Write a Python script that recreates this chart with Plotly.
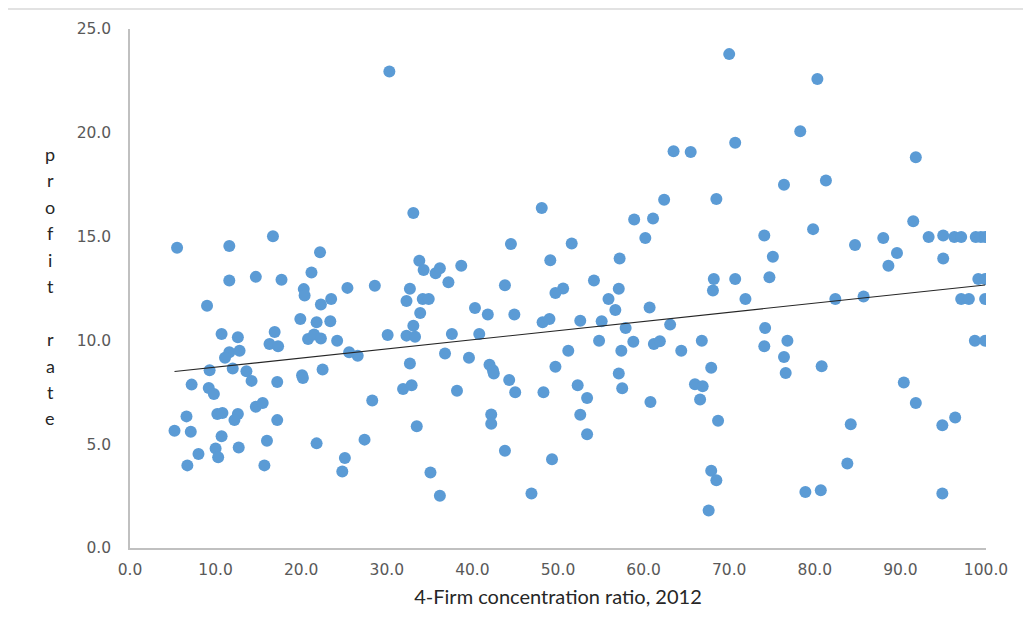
import numpy as np
import plotly.graph_objects as go

# 4-firm concentration ratio (x) and profit rate (y)
concentration_ratio = [
    33.1, 5.5, 11.6, 16.7, 22.2, 33.8, 34.3, 11.6, 14.7, 17.7, 21.2, 20.3, 20.4, 25.4, 28.6,
    32.7, 32.3, 34.2, 34.9, 33.9, 33.1, 9.0, 23.5, 22.3, 19.9, 21.8, 23.4,
    10.7, 12.6, 16.9, 11.6, 11.1, 12.8, 16.3, 17.3, 20.8, 21.5, 22.3, 24.2, 30.1, 32.3, 33.3,
    25.6, 26.6, 9.3, 12.0, 13.6, 7.2, 9.2, 9.8, 14.2, 17.2, 20.1, 20.2, 22.5, 32.7, 31.9, 32.9,
    28.3, 14.7, 15.5, 6.6, 10.2, 10.8, 12.6, 12.2, 17.2, 33.5, 5.2, 7.1, 10.7, 16.0, 21.8, 27.4,
    8.0, 10.0, 10.3, 12.7, 6.7, 15.7, 25.1, 24.8,
    63.5, 65.5, 62.4, 58.9, 61.1, 60.2, 48.1, 44.5, 51.6, 35.7, 36.2, 38.7, 37.2, 49.1, 57.2,
    43.8, 54.2, 40.3, 41.8, 44.9, 50.6, 49.7, 57.1, 55.9, 56.7, 60.7, 48.2, 49.0, 52.6, 55.1,
    57.9, 63.1,
    37.6, 40.8, 36.8, 39.6, 42.0, 42.4, 42.5, 44.3, 45.0, 38.2, 48.3, 51.2, 49.7, 54.8, 57.4,
    58.8, 61.2, 61.9, 64.4, 66.8, 57.1, 57.5, 52.3, 53.4, 60.8, 66.0, 66.6, 42.2, 42.2, 52.6,
    53.4, 43.8, 49.3, 35.1, 36.2, 46.9,
    70.0, 80.3, 78.3, 70.7, 91.8, 68.5, 76.4, 81.3, 74.1, 79.8, 91.5, 84.7, 88.0, 93.3, 95.0,
    96.3, 97.1, 98.8, 99.4, 99.9, 75.1, 89.6, 88.6, 95.0, 68.2, 70.7, 68.1, 74.7, 71.9, 82.4,
    85.7, 99.1, 99.9, 97.1, 98.0, 99.9, 74.2,
    74.1, 76.8, 76.4, 76.6, 80.8, 67.9, 66.9, 68.7, 90.4, 91.8, 96.4, 94.9, 84.2, 83.8, 67.9,
    68.5, 67.6, 78.9, 80.7, 94.9, 98.7, 99.9,
    30.3,
]
profit_rate = [
    16.14, 14.46, 14.55, 15.02, 14.25, 13.84, 13.39, 12.88, 13.06, 12.92, 13.27, 12.47, 12.16, 12.53, 12.63,
    12.49, 11.90, 11.99, 11.99, 11.32, 10.71, 11.67, 11.99, 11.73, 11.03, 10.87, 10.92,
    10.31, 10.15, 10.41, 9.43, 9.16, 9.50, 9.83, 9.72, 10.07, 10.28, 10.09, 9.98, 10.26, 10.23, 10.18,
    9.43, 9.26, 8.56, 8.65, 8.51, 7.87, 7.71, 7.42, 8.05, 8.00, 8.32, 8.19, 8.60, 8.89, 7.66, 7.84,
    7.10, 6.80, 6.98, 6.34, 6.45, 6.50, 6.45, 6.16, 6.16, 5.87, 5.65, 5.60, 5.38, 5.17, 5.04, 5.22,
    4.53, 4.79, 4.37, 4.84, 3.98, 3.98, 4.33, 3.69,
    19.11, 19.08, 16.78, 15.82, 15.87, 14.93, 16.38, 14.64, 14.67, 13.23, 13.47, 13.60, 12.80, 13.86, 13.95,
    12.66, 12.88, 11.56, 11.25, 11.25, 12.50, 12.28, 12.49, 11.99, 11.46, 11.59, 10.87, 11.03, 10.95, 10.92,
    10.60, 10.76,
    10.31, 10.31, 9.37, 9.16, 8.83, 8.56, 8.41, 8.09, 7.50, 7.58, 7.50, 9.50, 8.73, 9.98, 9.50,
    9.93, 9.83, 9.96, 9.50, 9.98, 8.41, 7.70, 7.84, 7.23, 7.03, 7.89, 7.15, 6.43, 5.99, 6.42,
    5.48, 4.68, 4.28, 3.64, 2.52, 2.62,
    23.79, 22.59, 20.07, 19.52, 18.82, 16.81, 17.50, 17.70, 15.05, 15.36, 15.74, 14.59, 14.93, 14.98, 15.05,
    14.98, 14.98, 14.98, 14.98, 14.98, 14.03, 14.21, 13.60, 13.95, 12.96, 12.96, 12.40, 13.04, 11.99, 11.99,
    12.12, 12.96, 12.96, 11.99, 11.99, 11.99, 10.60,
    9.72, 9.98, 9.20, 8.43, 8.76, 8.68, 7.79, 6.13, 7.97, 6.98, 6.29, 5.91, 5.96, 4.07, 3.72,
    3.26, 1.81, 2.70, 2.78, 2.62, 9.98, 9.98,
    22.95,
]

x_ticks = [0, 10, 20, 30, 40, 50, 60, 70, 80, 90, 100]
y_ticks = [0, 5, 10, 15, 20, 25]
y_title_letters = ["p", "r", "o", "f", "i", "t", "", "r", "a", "t", "e"]

xs = np.array(concentration_ratio)
ys = np.array(profit_rate)
slope, intercept = np.polyfit(xs, ys, 1)
trend_x = np.array([xs.min(), xs.max()])
trend_y = slope * trend_x + intercept

fig = go.Figure()
fig.add_trace(go.Scatter(
    x=concentration_ratio, y=profit_rate, mode="markers",
    marker=dict(color="#5B9BD5", size=12, line=dict(width=0)),
    showlegend=False, hoverinfo="x+y",
))
fig.add_trace(go.Scatter(
    x=trend_x, y=trend_y, mode="lines",
    line=dict(color="#262626", width=1.1),
    showlegend=False, hoverinfo="skip",
))

W, H = 1031, 625
OFF = 8  # default page body margin
# plot area in page pixels
PX0, PX1, PY0, PY1 = 130, 986, 27, 548
L = PX0 - OFF
T = PY0 - OFF
R = W - L - (PX1 - PX0)
B = H - T - (PY1 - PY0)
pw, ph = PX1 - PX0, PY1 - PY0

def px_x(px):
    return (px - PX0) / pw

def px_y(py):
    return (PY1 - py) / ph

annotations = []
for i, ch in enumerate(y_title_letters):
    if not ch:
        continue
    annotations.append(dict(
        text=ch, x=px_x(50), y=px_y(152 + i * 26.6), xref="paper", yref="paper",
        showarrow=False, xanchor="center", yanchor="middle",
        font=dict(family="Lato, Open Sans, sans-serif", size=18, color="#262626"),
    ))

tick_font = dict(family="DejaVu Sans, sans-serif", size=15.5, color="#595959")

fig.update_layout(
    width=W, height=H,
    margin=dict(l=L, r=R, t=T, b=B),
    paper_bgcolor="white", plot_bgcolor="white",
    xaxis=dict(
        range=[0, 100], tickvals=x_ticks, ticktext=[f"{v:.1f}" for v in x_ticks],
        showgrid=False, zeroline=False, showline=True, linecolor="#c0c0c0", linewidth=1.5,
        ticks="", tickfont=tick_font, ticklabelstandoff=7,
        title=dict(text="4-Firm concentration ratio, 2012", standoff=12,
                   font=dict(family="Lato, Open Sans, sans-serif", size=20, color="#262626")),
    ),
    yaxis=dict(
        range=[0, 25], tickvals=y_ticks, ticktext=[f"{v:.1f}" for v in y_ticks],
        showgrid=False, zeroline=False, showline=True, linecolor="#c0c0c0", linewidth=1.5,
        ticks="", tickfont=tick_font, ticklabelstandoff=14,
    ),
    annotations=annotations,
    shapes=[dict(type="rect", xref="paper", yref="paper",
                 x0=px_x(7), x1=px_x(1045), y0=px_y(645), y1=px_y(7),
                 line=dict(color="#d9d9d9", width=1.5), fillcolor="rgba(0,0,0,0)", layer="below")],
)

fig.write_html("out.html")
